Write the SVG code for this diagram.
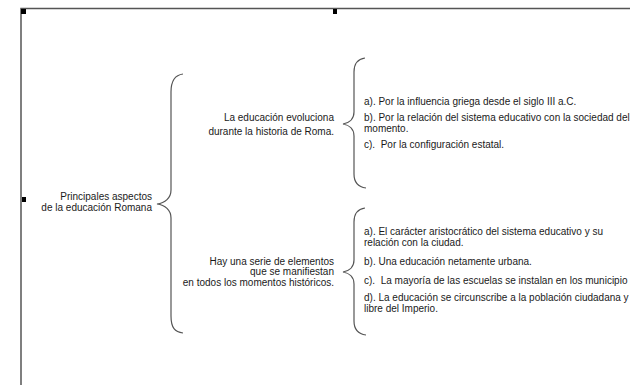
<svg xmlns="http://www.w3.org/2000/svg" width="630" height="385" viewBox="0 0 630 385">
<style>
text{font-family:"Liberation Sans",Arial,sans-serif;font-size:10px;fill:#1a1a1a}
.r{text-anchor:end}
.brace{fill:none;stroke:#555;stroke-width:1.2}
.frame{stroke:#555;stroke-width:1.5;fill:none}
.h{fill:#000}
</style>
<rect width="630" height="385" fill="#fff"/>
<g id="frame">
<path class="frame" d="M21,385 L21,8.5 L630,8.5"/>
<rect class="h" x="21" y="9" width="5" height="5"/>
<rect class="h" x="333" y="9" width="4" height="5"/>
<rect class="h" x="22" y="197" width="4" height="5"/>
</g>
<g id="connectors">
<path class="brace" d="M183,74 C175,75 171,80 171,92 L171,190 C171,198 165,203 157,204 C165,205 171,210 171,218 L171,316 C171,328 175,332 183,333"/>
<path class="brace" d="M365,58 C358,59 354,63 354,72 L354,112 C354,119 349,123 343,124 C349,125 354,129 354,136 L354,174 C354,183 358,187 366,188"/>
<path class="brace" d="M365,208 C358,209 354,213 354,222 L354,260 C354,267 349,271 343,272 C349,273 354,277 354,284 L354,321 C354,330 358,334 366,335"/>
</g>
<g id="n-root">
<text class="r" x="152" y="199.5">Principales aspectos</text>
<text class="r" x="152" y="210.5">de la educación Romana</text>
</g>
<g id="n-evolucion">
<text class="r" x="334" y="121">La educación evoluciona</text>
<text class="r" x="334" y="134.5">durante la historia de Roma.</text>
</g>
<g id="n-evolucion-items">
<text x="364" y="104.5">a). Por la influencia griega desde el siglo III a.C.</text>
<text x="364" y="120.5">b). Por la relación del sistema educativo con la sociedad del</text>
<text x="364" y="131.5">momento.</text>
<text x="364" y="147.5" xml:space="preserve">c).  Por la configuración estatal.</text>
</g>
<g id="n-elementos">
<text class="r" x="334" y="264.5">Hay una serie de elementos</text>
<text class="r" x="334" y="275">que se manifiestan</text>
<text class="r" x="334" y="285.5">en todos los momentos históricos.</text>
</g>
<g id="n-elementos-items">
<text x="364" y="235">a). El carácter aristocrático del sistema educativo y su</text>
<text x="364" y="245.5">relación con la ciudad.</text>
<text x="364" y="264.5">b). Una educación netamente urbana.</text>
<text x="364" y="283.5" xml:space="preserve">c).  La mayoría de las escuelas se instalan en los municipio</text>
<text x="364" y="300.5">d). La educación se circunscribe a la población ciudadana y</text>
<text x="364" y="311.5">libre del Imperio.</text>
</g>
</svg>
